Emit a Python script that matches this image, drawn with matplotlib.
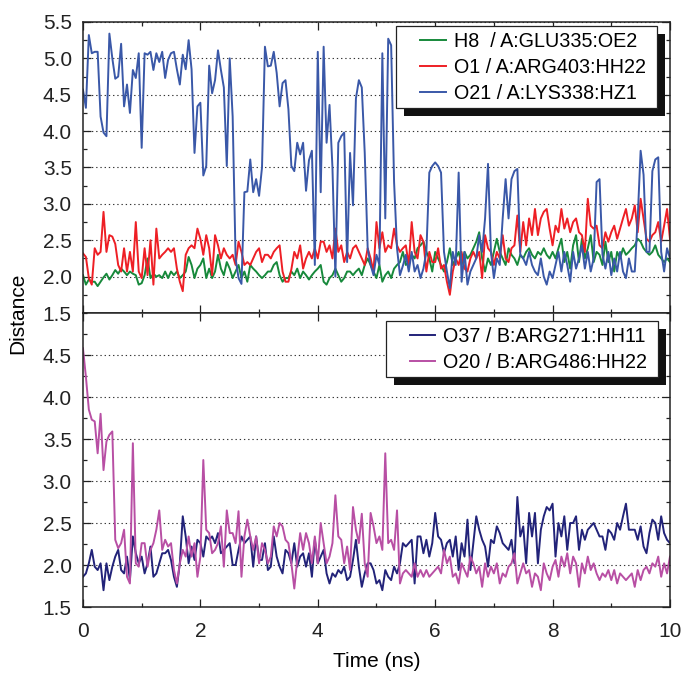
import numpy as np
import matplotlib
matplotlib.use("Agg")
import matplotlib.pyplot as plt
from matplotlib.patches import Rectangle
from matplotlib.ticker import MultipleLocator, FormatStrFormatter

plt.rcParams["font.family"] = ["Liberation Sans", "DejaVu Sans"]

# time axis: one frame every 0.05 ns
time_ns = np.linspace(0.0, 10.0, 201)

# upper panel (chain A)
h8_glu335 = [
    2.02, 1.89, 1.96, 1.93, 1.93, 1.87, 1.93, 1.99, 2.04, 1.96,
    2.02, 2.09, 2.04, 2.11, 2.07, 2.02, 2.07, 2.04, 2.02, 1.89,
    1.91, 2.02, 2.25, 1.98, 2.04, 2.00, 2.02, 1.98, 2.07, 1.98,
    2.07, 2.02, 2.07, 1.98, 2.02, 2.07, 2.27, 2.16, 1.98, 2.11,
    2.16, 2.25, 1.98, 2.11, 1.98, 2.07, 2.30, 2.11, 2.02, 2.20,
    2.11, 1.98, 2.07, 2.16, 1.98, 2.07, 1.93, 2.16, 2.11, 2.07,
    2.02, 1.98, 2.02, 2.07, 2.07, 2.16, 2.20, 2.02, 1.93, 1.98,
    1.98, 2.07, 2.02, 2.11, 1.98, 2.07, 2.02, 1.96, 2.02, 2.07,
    2.11, 2.16, 1.93, 1.89, 1.98, 2.02, 2.11, 2.02, 1.93, 1.98,
    2.07, 2.07, 2.02, 2.07, 2.11, 2.02, 2.16, 2.25, 2.16, 2.07,
    1.98, 2.16, 1.93, 2.02, 2.07, 1.98, 2.11, 2.16, 2.20, 2.34,
    2.16, 2.20, 2.30, 2.25, 2.39, 2.43, 2.48, 2.34, 2.25, 2.07,
    2.34, 2.25, 2.16, 2.07, 2.20, 2.39, 2.16, 2.25, 2.34, 2.16,
    2.34, 2.25, 2.30, 2.39, 2.48, 2.61, 2.25, 2.07, 2.25, 2.16,
    2.34, 2.52, 2.34, 2.25, 2.16, 2.39, 2.30, 2.25, 2.16, 2.30,
    2.25, 2.34, 2.39, 2.30, 2.25, 2.34, 2.30, 2.39, 2.30, 2.25,
    2.34, 2.25, 2.39, 2.52, 2.20, 2.34, 2.11, 2.43, 2.57, 2.20,
    2.52, 2.25, 2.39, 2.57, 2.20, 2.34, 2.30, 2.16, 2.48, 2.20,
    2.34, 2.07, 2.34, 2.25, 2.39, 2.30, 2.34, 2.39, 2.43, 2.52,
    2.48, 2.39, 2.34, 2.30, 2.34, 2.43, 2.30, 2.25, 2.20, 2.25,
    2.20,
]
o1_arg403 = [
    2.32, 2.27, 1.98, 1.89, 2.39, 2.30, 2.34, 2.89, 2.34, 2.57,
    2.55, 2.45, 2.16, 2.07, 2.39, 2.07, 2.34, 2.07, 2.75, 2.07,
    1.98, 2.39, 2.02, 2.50, 1.89, 2.66, 2.25, 2.30, 2.34, 2.39,
    2.34, 2.39, 2.11, 1.93, 1.80, 2.30, 2.39, 2.43, 2.39, 2.66,
    2.52, 2.30, 2.57, 2.39, 2.02, 2.57, 2.43, 2.25, 2.39, 2.30,
    2.25, 2.30, 2.16, 2.48, 2.34, 2.16, 2.20, 2.16, 2.25, 2.34,
    2.39, 2.20, 2.30, 2.30, 2.25, 2.34, 2.39, 2.43, 2.07, 1.93,
    1.93, 2.10, 2.34, 2.25, 2.43, 2.11, 2.25, 2.34, 2.25, 2.39,
    2.25, 2.48, 2.48, 2.34, 2.43, 2.25, 2.66, 2.34, 2.43, 2.20,
    2.34, 2.25, 2.39, 2.43, 2.34, 2.25, 2.16, 2.39, 2.25, 2.07,
    2.75, 2.39, 2.61, 2.34, 2.43, 2.39, 2.66, 2.43, 2.34, 2.39,
    2.43, 2.16, 2.75, 2.34, 2.25, 2.57, 2.48, 2.07, 2.34, 2.20,
    2.20, 2.39, 2.11, 2.16, 1.93, 1.75, 2.07, 2.25, 2.16, 2.34,
    2.11, 2.07, 2.25, 2.34, 2.25, 2.34, 1.98, 2.57, 2.39, 2.34,
    2.16, 2.34, 2.25, 2.57, 2.25, 2.20, 2.39, 2.43, 2.84, 2.34,
    2.75, 2.43, 2.80, 2.57, 2.93, 2.57, 2.80, 2.89, 2.93, 2.66,
    2.43, 2.70, 2.61, 2.93, 2.66, 2.80, 2.61, 2.75, 2.80, 2.61,
    2.57, 2.34, 3.07, 2.70, 2.66, 2.70, 2.43, 2.39, 2.61, 2.48,
    2.61, 2.70, 2.52, 2.66, 2.80, 2.93, 2.70, 2.80, 2.98, 2.61,
    3.07, 2.80, 2.52, 2.48, 2.57, 2.61, 2.75, 2.48, 2.70, 2.93,
    2.52,
]
o21_lys338 = [
    4.57, 4.32, 5.32, 5.07, 5.09, 5.09, 4.20, 3.98, 3.93, 5.34,
    5.00, 4.72, 4.75, 5.20, 4.34, 4.64, 4.25, 4.84, 4.73, 5.07,
    3.77, 5.07, 5.05, 5.09, 4.84, 5.07, 4.95, 5.09, 4.73, 4.98,
    5.07, 5.09, 4.85, 4.64, 5.05, 4.85, 5.25, 4.85, 3.70, 4.34,
    4.39, 3.39, 3.52, 4.90, 4.52, 4.70, 5.11, 4.84, 4.60, 3.52,
    5.00, 4.20, 2.25, 1.98, 1.90, 3.16, 3.17, 3.61, 3.16, 3.34,
    3.11, 3.50, 5.16, 4.89, 4.90, 5.09, 4.80, 4.34, 4.66, 4.70,
    4.30, 3.52, 3.45, 3.84, 3.68, 3.84, 3.18, 3.60, 3.73, 2.16,
    5.09, 3.16, 5.16, 3.84, 4.36, 3.50, 2.00, 3.84, 3.93, 3.98,
    2.20, 3.70, 2.98, 4.45, 4.70, 4.60, 3.70, 2.39, 2.16, 2.02,
    2.30, 2.16, 5.07, 2.80, 5.27, 5.18, 3.30, 2.39, 2.02, 2.15,
    2.30, 2.07, 2.34, 2.07, 2.16, 1.98, 2.11, 2.34, 3.43, 3.52,
    3.57, 3.52, 3.43, 2.34, 2.07, 1.84, 2.34, 2.16, 3.43, 1.93,
    2.34, 1.89, 2.07, 2.16, 2.25, 2.57, 2.34, 2.80, 3.55, 2.34,
    1.98, 2.25, 2.16, 2.80, 3.34, 2.80, 3.34, 3.45, 3.48, 2.30,
    2.25, 2.16, 2.34, 2.16, 2.07, 2.02, 2.25, 2.00, 1.89, 2.07,
    1.98, 2.16, 2.34, 2.07, 2.34, 2.16, 1.93, 2.34, 2.11, 2.25,
    2.43, 2.11, 2.34, 2.07, 2.25, 3.30, 3.34, 2.30, 2.11, 2.34,
    2.02, 2.25, 2.07, 2.34, 2.07, 1.98, 2.25, 2.07, 2.07, 2.80,
    3.73, 3.40, 2.34, 2.34, 3.45, 3.61, 3.64, 2.34, 2.07, 2.39,
    2.25,
]

# lower panel (chain B)
o37_arg271 = [
    1.86, 1.90, 2.02, 2.18, 1.98, 1.94, 2.02, 1.70, 2.02, 1.82,
    1.98, 2.10, 2.18, 1.94, 1.90, 2.10, 1.82, 2.34, 2.14, 2.02,
    2.10, 1.90, 2.02, 2.22, 1.86, 1.90, 2.02, 2.14, 2.14, 2.18,
    2.06, 1.86, 1.74, 2.02, 2.58, 2.34, 2.02, 2.22, 2.06, 2.30,
    2.26, 2.10, 2.34, 2.30, 2.34, 2.26, 2.38, 2.14, 2.18, 2.22,
    2.26, 2.00, 2.00, 2.18, 2.34, 2.26, 2.30, 2.34, 1.98, 2.34,
    2.06, 2.06, 2.26, 1.94, 1.98, 2.34, 2.10, 1.98, 1.90, 2.18,
    2.14, 2.02, 2.26, 1.98, 2.10, 2.14, 1.98, 2.14, 1.86, 2.30,
    2.02, 2.10, 2.18, 1.90, 1.78, 1.90, 1.86, 1.94, 1.90, 1.98,
    1.82, 1.86, 2.06, 2.30, 1.98, 1.74, 1.90, 2.02, 2.02, 1.94,
    1.78, 1.82, 1.70, 1.94, 1.86, 1.82, 1.98, 1.90, 2.02, 2.26,
    2.22, 2.26, 2.30, 1.78, 2.34, 2.34, 2.14, 2.30, 2.10, 2.26,
    2.62, 2.34, 2.30, 2.14, 2.26, 2.30, 2.10, 2.34, 1.94, 2.26,
    2.10, 2.54, 1.94, 2.26, 2.58, 2.42, 2.30, 2.22, 1.98, 2.30,
    2.26, 2.46, 2.38, 2.26, 2.22, 2.18, 2.30, 2.02, 2.81, 2.34,
    2.46, 2.02, 2.62, 2.34, 2.62, 2.02, 2.42, 2.58, 2.69, 2.65,
    2.73, 2.10, 2.50, 2.34, 2.58, 2.18, 2.50, 2.50, 2.58, 2.18,
    2.42, 2.30, 2.42, 2.46, 2.50, 2.42, 2.34, 2.34, 2.18, 2.42,
    2.38, 2.30, 2.50, 2.42, 2.58, 2.73, 2.42, 2.42, 2.42, 2.30,
    2.46, 2.22, 2.14, 2.38, 2.54, 2.50, 2.30, 2.58, 2.38, 2.30,
    2.26,
]
o20_arg486 = [
    4.58, 4.24, 3.85, 3.73, 3.71, 3.33, 3.80, 3.13, 3.47, 3.55,
    3.59, 2.30, 2.20, 2.26, 2.42, 1.86, 1.78, 3.45, 2.02, 1.98,
    2.26, 2.26, 1.98, 2.18, 2.26, 2.42, 2.65, 2.18, 2.30, 2.22,
    2.26, 1.94, 1.78, 2.02, 2.18, 2.10, 2.34, 2.10, 2.26, 1.86,
    2.10, 3.25, 2.42, 2.38, 2.14, 2.18, 2.26, 2.46, 1.98, 2.65,
    2.38, 2.38, 2.26, 2.64, 1.86, 2.34, 2.54, 2.34, 2.18, 2.34,
    2.02, 2.26, 2.18, 2.02, 2.10, 2.46, 2.34, 2.50, 2.46, 2.30,
    2.26, 2.02, 1.72, 2.06, 2.38, 2.18, 2.38, 2.26, 2.02, 2.34,
    2.02, 2.50, 2.26, 2.02, 2.10, 2.26, 2.83, 2.34, 2.30, 2.02,
    2.22, 1.94, 2.69, 2.42, 2.26, 2.61, 2.02, 1.86, 2.62, 2.46,
    2.26, 2.34, 2.18, 3.33, 2.26, 2.30, 2.18, 2.65, 1.78, 1.90,
    1.94, 1.90, 1.86, 2.02, 1.86, 1.94, 1.86, 1.94, 1.86, 1.90,
    1.94, 1.98, 1.90, 2.18, 2.02, 2.10, 1.86, 1.90, 1.78, 2.02,
    1.94, 1.86, 2.10, 2.02, 1.90, 1.98, 1.74, 2.02, 1.86, 1.98,
    1.90, 2.02, 1.78, 1.90, 1.86, 1.98, 2.02, 2.14, 1.78, 1.90,
    2.02, 1.90, 1.94, 1.74, 1.90, 1.86, 1.70, 2.02, 1.90, 1.82,
    1.98, 2.06, 1.86, 2.10, 1.98, 2.14, 1.90, 2.10, 2.02, 1.74,
    2.02, 1.90, 2.10, 1.94, 2.02, 1.90, 1.82, 1.90, 1.86, 1.94,
    1.82, 1.94, 1.78, 1.90, 1.86, 1.82, 1.86, 1.90, 1.74, 1.94,
    1.82, 1.94, 1.98, 1.90, 2.02, 1.98, 2.10, 1.86, 2.02, 1.90,
    2.10,
]

top_series = [
    (h8_glu335, "H8  / A:GLU335:OE2", "#17893b"),
    (o1_arg403, "O1 / A:ARG403:HH22", "#ee1f25"),
    (o21_lys338, "O21 / A:LYS338:HZ1", "#3a58a8"),
]
bottom_series = [
    (o37_arg271, "O37 / B:ARG271:HH11", "#222379"),
    (o20_arg486, "O20 / B:ARG486:HH22", "#b84fa4"),
]

fig = plt.figure(figsize=(6.84, 6.74), dpi=100)
ax_top = fig.add_axes([0.1213, 0.5356, 0.8582, 0.4318])
ax_bot = fig.add_axes([0.1213, 0.0994, 0.8582, 0.4362])

for values, label, color in top_series:
    ax_top.plot(time_ns, values, color=color, lw=1.4, label=label)
for values, label, color in bottom_series:
    ax_bot.plot(time_ns, values, color=color, lw=1.4, label=label)

ax_top.set_ylim(1.5, 5.5)
ax_bot.set_ylim(1.5, 5.0)
ax_top.yaxis.set_major_locator(MultipleLocator(0.5))
ax_bot.set_yticks(np.arange(1.5, 4.51, 0.5))

for ax in (ax_top, ax_bot):
    ax.set_xlim(0, 10)
    ax.xaxis.set_major_locator(MultipleLocator(2))
    ax.xaxis.set_minor_locator(MultipleLocator(1))
    ax.yaxis.set_minor_locator(MultipleLocator(0.25))
    ax.yaxis.set_major_formatter(FormatStrFormatter("%.1f"))
    ax.tick_params(which="both", direction="in", top=True, right=True,
                   width=0.9, labelsize=15, colors="#222222")
    ax.tick_params(which="major", length=6)
    ax.tick_params(which="minor", length=3)
    ax.tick_params(axis="y", pad=8)
    ax.tick_params(axis="x", pad=11)
    ax.grid(axis="y", which="major", color="#333333", lw=0.8,
            ls=(0, (1.2, 2.6)))
    for spine in ax.spines.values():
        spine.set_linewidth(1.1)
        spine.set_color("#222222")

ax_top.tick_params(labelbottom=False)
ax_bot.set_xlabel("Time (ns)", fontsize=15, labelpad=8)
fig.text(0.026, 1 - 313 / 674, "Distance", rotation=90, fontsize=15,
         ha="center", va="center")

legend_kw = dict(loc="upper right", frameon=False, borderpad=0,
                 borderaxespad=0, fontsize=14.2, handlelength=1.28,
                 handletextpad=0.42, labelspacing=0.36)
leg_top = ax_top.legend(bbox_to_anchor=(0.959, 0.9656), **legend_kw)
leg_bot = ax_bot.legend(bbox_to_anchor=(0.961, 0.952), **legend_kw)

fig.canvas.draw()


def add_legend_frame(ax, leg):
    # white box with a hard black drop shadow, as in the original figure
    bb = leg.get_window_extent()
    x0, x1 = bb.x0 - 24, bb.x1 + 11
    y0, y1 = bb.y0 - 5, bb.y1 + 6
    inv = ax.transAxes.inverted()
    (fx0, fy0), (fx1, fy1) = inv.transform([(x0, y0), (x1, y1)])
    (sx0, sy0), (sx1, sy1) = inv.transform([(x0 + 8, y0 - 8), (x1 + 8, y1 - 8)])
    ax.add_patch(Rectangle((sx0, sy0), sx1 - sx0, sy1 - sy0,
                           transform=ax.transAxes, facecolor="#111111",
                           edgecolor="none", zorder=4.6, clip_on=False))
    ax.add_patch(Rectangle((fx0, fy0), fx1 - fx0, fy1 - fy0,
                           transform=ax.transAxes, facecolor="white",
                           edgecolor="#222222", lw=0.9, zorder=4.7,
                           clip_on=False))


add_legend_frame(ax_top, leg_top)
add_legend_frame(ax_bot, leg_bot)

fig.savefig("out.png", dpi=100)
plt.close(fig)
